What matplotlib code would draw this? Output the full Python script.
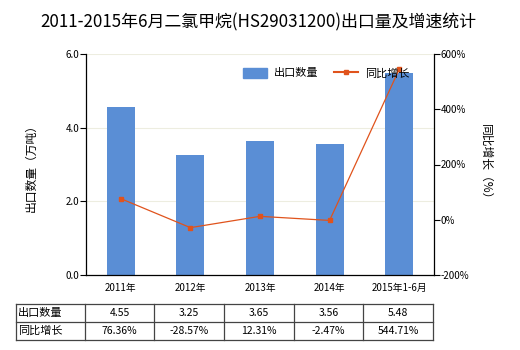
import matplotlib
matplotlib.use("Agg")
import matplotlib.pyplot as plt
from matplotlib.lines import Line2D
from matplotlib.patches import Patch

plt.rcParams['font.family'] = ['Noto Sans CJK SC', 'DejaVu Sans']

categories = ["2011年", "2012年", "2013年", "2014年", "2015年1-6月"]
export_qty = [4.55, 3.25, 3.65, 3.56, 5.48]
growth = [76.36, -28.57, 12.31, -2.47, 544.71]
qty_labels = ["4.55", "3.25", "3.65", "3.56", "5.48"]
growth_labels = ["76.36%", "-28.57%", "12.31%", "-2.47%", "544.71%"]
row_names = ["出口数量", "同比增长"]

W, H = 520, 350
fig = plt.figure(figsize=(W/100, H/100), dpi=100)

def fx(px): return px / W
def fy(py): return 1 - py / H

ax = fig.add_axes([fx(86), fy(275), fx(434) - fx(86), fy(54) - fy(275)])
x = list(range(len(categories)))
bar_color = "#5A8ED5"
line_color = "#E0531C"
ax.bar(x, export_qty, width=0.4, color=bar_color, zorder=2)
ax.set_xlim(-0.5, len(categories) - 0.5)
ax.set_ylim(0, 6)
ax.set_yticks([0, 2, 4, 6])
ax.set_yticklabels(["0.0", "2.0", "4.0", "6.0"], fontsize=7)
ax.set_xticks(x)
ax.set_xticklabels(categories, fontsize=7)
ax.tick_params(axis='x', length=0, pad=6)
ax.tick_params(axis='y', length=4, width=0.8, pad=1)
ax.grid(axis='y', color="#EDEDE0", linewidth=0.8, zorder=0)
for s in ['top', 'right']:
    ax.spines[s].set_visible(False)
ax.spines['left'].set_linewidth(0.9)
ax.spines['bottom'].set_linewidth(0.9)
ax.set_ylabel("出口数量（万吨）", fontsize=8.5, labelpad=20)

ax2 = ax.twinx()
ax2.plot(x, growth, color=line_color, linewidth=0.9, marker='s', markersize=3, zorder=3)
ax2.set_ylim(-200, 600)
ax2.set_yticks([-200, 0, 200, 400, 600])
ax2.set_yticklabels(["-200%", "0%", "200%", "400%", "600%"], fontsize=7)
ax2.tick_params(axis='y', length=4, width=0.8, pad=1)
for s in ['top', 'left', 'bottom']:
    ax2.spines[s].set_visible(False)
ax2.spines['right'].set_linewidth(0.9)
ax2.set_ylabel("同比增长（%）", fontsize=8.5, rotation=-90, labelpad=16)

fig.text(fx(258), fy(22), "2011-2015年6月二氯甲烷(HS29031200)出口量及增速统计",
         ha='center', va='center', fontsize=12.2)

handles = [Patch(color=bar_color),
           Line2D([0], [0], color=line_color, linewidth=1.5, marker='s', markersize=3)]
fig.legend(handles, ["出口数量", "同比增长"], loc='center', ncol=2,
           bbox_to_anchor=(fx(326), fy(73)), frameon=False, fontsize=8,
           handlelength=2.2, handleheight=1.0, columnspacing=1.4, handletextpad=0.6)

# table
cols = [16, 85, 154, 224, 294, 363, 433]
rows = [304, 322, 340]
tc = "#444444"
for r in rows:
    fig.add_artist(Line2D([fx(cols[0]), fx(cols[-1])], [fy(r), fy(r)], color=tc, linewidth=0.9))
for c in cols:
    fig.add_artist(Line2D([fx(c), fx(c)], [fy(rows[0]), fy(rows[-1])], color=tc, linewidth=0.9))
table_rows = [qty_labels, growth_labels]
for i, name in enumerate(row_names):
    yc = (rows[i] + rows[i + 1]) / 2
    fig.text(fx(cols[0] + 2), fy(yc), name, ha='left', va='center', fontsize=8)
    for j, val in enumerate(table_rows[i]):
        xc = (cols[j + 1] + cols[j + 2]) / 2
        fig.text(fx(xc), fy(yc), val, ha='center', va='center', fontsize=7.5)

fig.savefig("out.png", dpi=100)
